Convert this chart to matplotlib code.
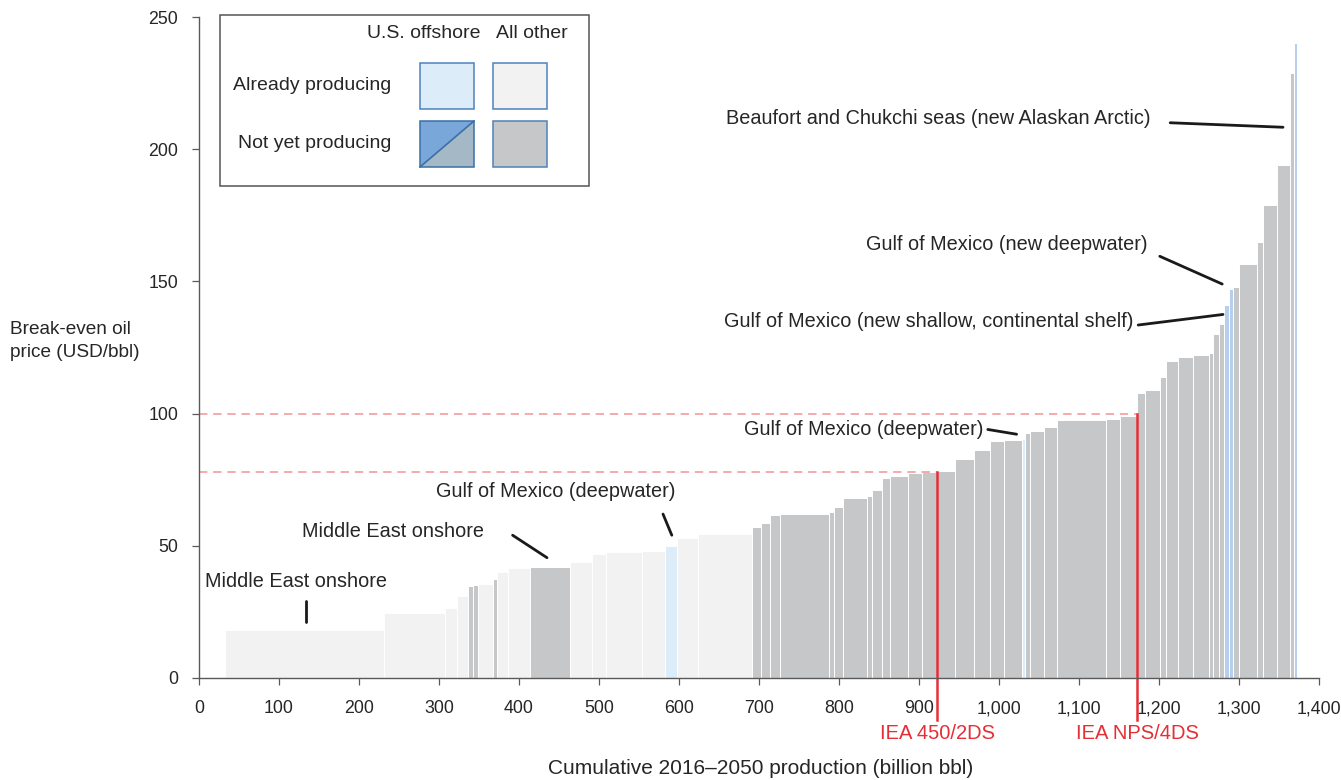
import matplotlib
matplotlib.use("Agg")
import matplotlib.pyplot as plt
import numpy as np
from matplotlib.patches import Rectangle, Polygon

plt.rcParams['font.family'] = ['Liberation Sans', 'DejaVu Sans']

# ---------------------------------------------------------------------------
# Cost curve data: each block is a group of fields (width = billion bbl,
# height = break-even price in USD/bbl)
# ---------------------------------------------------------------------------
curve_start = 32.5
widths = [199, 76, 15, 13.5, 6.5, 6.5, 18.5, 5, 13.5, 28,
          50, 27, 18, 45, 28.5, 15, 26.5, 67, 11.5, 11.5,
          12, 61.5, 6.5, 11, 30, 6, 13, 10, 22, 18,
          19, 22, 24, 20, 17, 23, 3, 7, 17, 16,
          62, 17, 21.5, 10, 18.5, 8, 15, 18.5, 20, 5,
          7.5, 6, 6.5, 5, 7.5, 22.5, 7.5, 17.5, 16.5, 5,
          3.5]
prices = [18, 24.5, 26.5, 31, 34.8, 35, 35.5, 37.4, 40, 41.6,
          42, 44, 46.8, 47.5, 48, 50, 52.9, 54.4, 57, 58.6,
          61.6, 62, 62.7, 64.6, 68.2, 69, 71, 75.5, 76.3, 77.5,
          78, 78.2, 83, 86.3, 89.5, 90, 90.5, 92.6, 93.5, 95,
          97.5, 98, 99, 107.7, 109, 114, 120, 121.4, 122, 123,
          130, 134, 141, 147, 148, 156.5, 165, 179, 194, 229,
          240]
# A = already producing (other), N = not yet producing (other),
# UA = U.S. offshore already producing, UN = U.S. offshore not yet producing
groups = ['A', 'A', 'A', 'A', 'N', 'N', 'A', 'N', 'A', 'A',
          'N', 'A', 'A', 'A', 'A', 'UA', 'A', 'A', 'N', 'N',
          'N', 'N', 'N', 'N', 'N', 'N', 'N', 'N', 'N', 'N',
          'N', 'N', 'N', 'N', 'N', 'N', 'UA', 'N', 'N', 'N',
          'N', 'N', 'N', 'N', 'N', 'N', 'N', 'N', 'N', 'N',
          'N', 'N', 'UN', 'UN', 'N', 'N', 'N', 'N', 'N', 'N',
          'UN']

# IEA scenario demand (cumulative production) and marginal prices
scenario_names = ['IEA 450/2DS', 'IEA NPS/4DS']
scenario_volume = [922.5, 1172.5]
scenario_price = [78, 100]

COLORS = {
    'A': '#f2f2f2',
    'N': '#c6c7c9',
    'UA': '#dcecf8',
    'UN': '#b6cfec',
}
RED = '#e62e36'
TEXT = '#262626'

# ---------------------------------------------------------------------------
fig = plt.figure(figsize=(13.41, 7.8), dpi=100)
ax = fig.add_axes([199 / 1341, 102 / 780, 1120 / 1341, 661 / 780])

lefts = curve_start + np.concatenate([[0], np.cumsum(widths)[:-1]])
ax.bar(lefts, prices, width=widths, align='edge',
       color=[COLORS[g] for g in groups], edgecolor='white', linewidth=0.7,
       zorder=2)

ax.set_xlim(0, 1400)
ax.set_ylim(0, 250)
ax.set_xticks(np.arange(0, 1401, 100))
ax.set_xticklabels([f'{v:,}' for v in range(0, 1401, 100)])
ax.set_yticks(np.arange(0, 251, 50))
for side in ['top', 'right']:
    ax.spines[side].set_visible(False)
for side in ['left', 'bottom']:
    ax.spines[side].set_color('#595959')
    ax.spines[side].set_linewidth(1.0)
    ax.spines[side].set_zorder(5)
ax.tick_params(axis='x', length=5, width=0.9, color='#595959', pad=11,
               labelsize=12.8, labelcolor=TEXT)
ax.tick_params(axis='y', length=5, width=0.9, color='#595959', pad=10,
               labelsize=12.8, labelcolor=TEXT)

# scenario thresholds
for name, vol, price in zip(scenario_names, scenario_volume, scenario_price):
    ax.plot([0, vol], [price, price], color='#f08a8d', lw=1.2,
            ls=(0, (5, 3.5)), alpha=0.85, zorder=3)
    ax.plot([vol, vol], [price, -16], color=RED, lw=1.8, zorder=4,
            clip_on=False)
    ax.text(vol, -21, name, color=RED, fontsize=14.5, ha='center',
            va='center', clip_on=False)

# callouts: (text, text x, text y, ha, line start, line end)
callouts = [
    ('Middle East onshore', 121, 36.5, 'center', (134, 29), (134, 21)),
    ('Middle East onshore', 243, 55.5, 'center', (392, 54), (435, 45.5)),
    ('Gulf of Mexico (deepwater)', 446, 70.5, 'center', (580, 62), (591, 54)),
    ('Gulf of Mexico (deepwater)', 980.5, 94, 'right', (986, 94), (1022, 92.2)),
    ('Gulf of Mexico (new shallow, continental shelf)', 1168, 135, 'right',
     (1174, 133.5), (1280, 137.5)),
    ('Gulf of Mexico (new deepwater)', 1186, 164, 'right',
     (1201, 159.5), (1279, 149)),
    ('Beaufort and Chukchi seas (new Alaskan Arctic)', 1189, 211.5, 'right',
     (1214, 210), (1355, 208.3)),
]
for label, tx, ty, ha, p0, p1 in callouts:
    ax.text(tx, ty, label, fontsize=14.3, color=TEXT, ha=ha, va='center',
            zorder=6)
    ax.plot([p0[0], p1[0]], [p0[1], p1[1]], color='#1a1a1a', lw=2,
            solid_capstyle='round', zorder=6)

fig.text(10 / 1341, 1 - 341 / 780, 'Break-even oil\nprice (USD/bbl)',
         fontsize=13.7, color=TEXT, ha='left', va='center', linespacing=1.4)
fig.text(761 / 1341, 1 - 768 / 780,
         'Cumulative 2016\u20132050 production (billion bbl)',
         fontsize=15, color=TEXT, ha='center', va='center')

# ---------------------------------------------------------------------------
# legend box drawn in pixel coordinates
# ---------------------------------------------------------------------------
lg = fig.add_axes([0, 0, 1, 1], zorder=10)
lg.set_xlim(0, 1341)
lg.set_ylim(780, 0)
lg.axis('off')
lg.add_patch(Rectangle((220, 15), 369, 171, facecolor='white',
                       edgecolor='#555555', lw=1.1))
lg.text(424, 33, 'U.S. offshore', fontsize=14, color=TEXT,
        ha='center', va='center')
lg.text(532, 33, 'All other', fontsize=14, color=TEXT,
        ha='center', va='center')
lg.text(391, 86, 'Already producing', fontsize=14, color=TEXT,
        ha='right', va='center')
lg.text(391, 144, 'Not yet producing', fontsize=14, color=TEXT,
        ha='right', va='center')
edge = '#4f83bd'
lg.add_patch(Rectangle((420, 63), 54, 46, facecolor=COLORS['UA'],
                       edgecolor=edge, lw=1.1))
lg.add_patch(Rectangle((493, 63), 54, 46, facecolor=COLORS['A'],
                       edgecolor=edge, lw=1.1))
lg.add_patch(Polygon([(420, 121), (474, 121), (420, 167)], closed=True,
                     facecolor='#7aa7da', edgecolor='none'))
lg.add_patch(Polygon([(474, 121), (474, 167), (420, 167)], closed=True,
                     facecolor='#a5b8c6', edgecolor='none'))
lg.plot([420, 474], [167, 121], color='#3a6fa8', lw=1.2)
lg.add_patch(Rectangle((420, 121), 54, 46, facecolor='none',
                       edgecolor='#3a6fa8', lw=1.1))
lg.add_patch(Rectangle((493, 121), 54, 46, facecolor=COLORS['N'],
                       edgecolor=edge, lw=1.1))

fig.savefig('out.png', dpi=100)
